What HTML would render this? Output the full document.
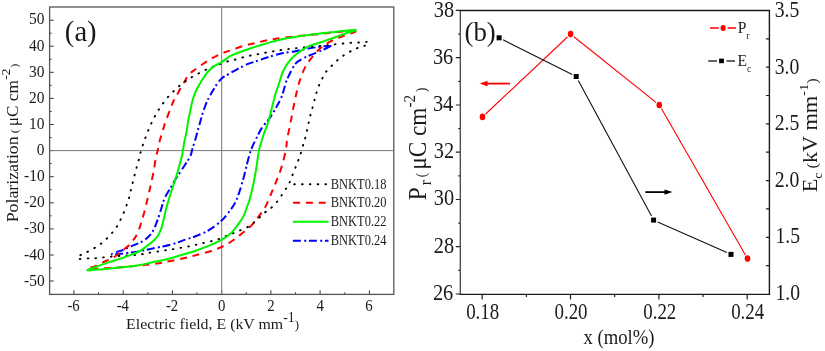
<!DOCTYPE html>
<html><head><meta charset="utf-8"><style>
html,body{margin:0;padding:0;background:#fff;width:825px;height:351px;overflow:hidden}
svg{display:block;will-change:transform}
</style></head><body>
<svg width="825" height="351" viewBox="0 0 825 351">
<rect width="825" height="351" fill="#fff"/>
<path d="M73.9,294.4V290.4 M98.5,294.4V292.4 M123.2,294.4V290.4 M147.8,294.4V292.4 M172.4,294.4V290.4 M197.0,294.4V292.4 M221.7,294.4V290.4 M246.3,294.4V292.4 M270.9,294.4V290.4 M295.5,294.4V292.4 M320.1,294.4V290.4 M344.8,294.4V292.4 M369.4,294.4V290.4 M49.6,281.0H53.6 M49.6,268.0H51.6 M49.6,255.0H53.6 M49.6,241.9H51.6 M49.6,228.9H53.6 M49.6,215.8H51.6 M49.6,202.8H53.6 M49.6,189.7H51.6 M49.6,176.7H53.6 M49.6,163.6H51.6 M49.6,150.6H53.6 M49.6,137.6H51.6 M49.6,124.5H53.6 M49.6,111.5H51.6 M49.6,98.4H53.6 M49.6,85.4H51.6 M49.6,72.3H53.6 M49.6,59.3H51.6 M49.6,46.2H53.6 M49.6,33.2H51.6 M49.6,20.2H53.6" stroke="#333" stroke-width="1" fill="none"/>
<rect x="49.6" y="7.0" width="344.2" height="287.4" fill="none" stroke="#555" stroke-width="1.3"/>
<path d="M49.6,150.6H393.8M221.7,7.0V294.4" stroke="#777" stroke-width="1" fill="none"/>
<path d="M331.4,45.9 C329.9,46.0 326.5,46.0 322.7,46.4 C318.9,46.8 313.2,47.7 308.5,48.5 C303.8,49.3 298.9,50.5 294.2,51.4 C289.5,52.3 284.6,52.7 280.2,53.7 C275.8,54.7 271.7,56.1 267.9,57.3 C264.1,58.5 261.0,59.6 257.6,60.8 C254.2,61.9 250.8,62.8 247.4,64.2 C244.0,65.6 240.3,67.6 237.1,69.3 C233.9,71.0 231.0,72.7 228.4,74.2 C225.8,75.7 223.5,76.9 221.6,78.5 C219.7,80.1 218.5,82.1 217.1,84.0 C215.7,85.9 214.7,87.7 213.4,89.8 C212.1,91.9 210.6,94.5 209.5,96.5 C208.4,98.5 208.0,99.1 206.9,101.7 C205.8,104.3 204.2,108.5 203.1,111.9 C202.0,115.3 200.9,119.4 200.2,122.0 C199.5,124.6 199.5,124.5 198.7,127.3 C197.9,130.1 196.6,135.0 195.6,138.5 C194.6,142.0 193.4,145.6 192.5,148.5 C191.6,151.4 191.7,153.2 190.4,156.0 C189.1,158.8 187.2,161.4 184.9,165.0 C182.6,168.6 178.8,174.0 176.4,177.8 C174.0,181.6 172.6,184.3 170.6,187.8 C168.6,191.3 165.9,195.2 164.3,199.0 C162.7,202.8 162.0,206.5 160.8,210.3 C159.6,214.1 158.2,218.4 156.9,221.8 C155.6,225.2 154.6,228.2 153.1,230.8 C151.6,233.4 149.8,235.4 147.9,237.2 C146.0,239.0 144.5,240.3 141.9,241.7 C139.3,243.1 135.6,244.3 132.5,245.7 C129.4,247.0 126.0,248.7 123.3,249.8 C120.6,250.9 118.4,251.3 116.5,252.1 C114.6,252.9 111.3,254.1 111.9,254.4 C112.5,254.7 117.1,254.1 119.9,253.8 C122.8,253.5 125.7,253.1 129.0,252.7 C132.3,252.3 136.3,251.9 140.0,251.2 C143.7,250.5 147.6,249.5 151.4,248.7 C155.2,247.9 159.0,247.2 162.8,246.4 C166.6,245.6 170.4,244.7 174.2,243.6 C178.0,242.5 181.8,240.9 185.6,239.6 C189.3,238.3 192.8,237.4 196.7,235.8 C200.6,234.2 205.1,232.4 209.2,229.9 C213.3,227.4 218.3,223.4 221.4,220.7 C224.5,218.0 225.7,216.2 227.8,213.5 C229.9,210.8 232.3,207.7 234.0,204.8 C235.7,201.9 236.5,200.1 238.0,195.9 C239.5,191.8 241.5,185.2 243.0,179.9 C244.5,174.6 245.7,169.0 247.0,164.0 C248.3,159.0 249.5,154.2 251.0,150.0 C252.5,145.8 254.2,142.7 256.0,139.0 C257.8,135.3 259.6,131.4 261.9,127.9 C264.2,124.4 267.6,121.2 269.9,117.9 C272.2,114.6 273.9,111.6 275.9,107.9 C277.9,104.2 280.2,100.3 281.9,96.0 C283.6,91.7 284.9,85.3 286.0,82.0 C287.1,78.7 287.4,78.7 288.5,76.3 C289.6,73.9 291.4,70.2 292.8,67.8 C294.2,65.4 295.2,63.8 297.1,62.1 C299.0,60.4 301.6,59.1 304.2,57.8 C306.8,56.5 309.9,55.4 312.8,54.2 C315.7,53.0 319.3,51.5 321.5,50.5 C323.7,49.5 324.4,49.3 326.0,48.5 C327.6,47.7 330.5,46.3 331.4,45.9" stroke="#0000ff" stroke-width="2" stroke-dasharray="8,3.3,2,2.7" fill="none"/>
<path d="M356.0,30.5 C353.8,30.7 346.5,31.2 342.8,31.5 C339.1,31.8 337.5,32.1 333.7,32.5 C329.9,32.9 325.4,33.5 320.0,34.0 C314.6,34.5 307.4,35.1 301.0,35.8 C294.6,36.5 286.6,37.4 281.5,38.0 C276.4,38.6 274.1,39.0 270.1,39.7 C266.1,40.5 261.8,41.5 257.6,42.5 C253.4,43.5 249.7,44.1 245.1,45.4 C240.5,46.7 234.5,49.0 230.3,50.5 C226.1,52.0 223.8,52.4 219.9,54.2 C216.0,56.0 211.1,58.9 207.0,61.4 C202.9,63.9 198.7,67.0 195.6,69.2 C192.5,71.5 190.3,72.9 188.5,74.9 C186.7,76.9 185.8,79.6 184.8,81.2 C183.8,82.8 183.7,82.5 182.5,84.5 C181.3,86.5 179.2,90.9 177.8,93.5 C176.4,96.1 175.2,97.7 174.0,100.0 C172.8,102.3 172.3,103.9 170.9,107.5 C169.5,111.1 167.2,117.2 165.7,121.4 C164.2,125.6 163.2,129.2 162.1,132.8 C161.0,136.4 159.9,140.0 159.2,142.8 C158.5,145.7 158.4,147.3 157.8,149.9 C157.2,152.5 156.4,154.8 155.7,158.5 C155.0,162.2 154.3,167.7 153.5,172.1 C152.7,176.5 151.6,180.7 150.7,185.0 C149.8,189.3 148.9,193.2 147.8,197.8 C146.7,202.4 145.3,208.2 144.1,212.8 C142.8,217.4 141.6,221.7 140.3,225.6 C139.0,229.5 137.4,233.4 136.1,236.0 C134.8,238.6 133.6,239.4 132.4,241.0 C131.2,242.6 130.5,243.8 129.0,245.3 C127.5,246.8 125.4,248.1 123.3,249.8 C121.2,251.5 118.6,254.0 116.5,255.5 C114.4,257.0 113.1,257.8 110.8,258.9 C108.5,260.0 105.5,261.1 102.8,262.4 C100.1,263.6 97.2,265.4 94.8,266.4 C92.4,267.4 85.9,268.3 88.6,268.6 C91.3,268.9 103.2,268.4 110.9,268.0 C118.6,267.6 128.5,266.6 134.9,266.0 C141.3,265.4 144.8,265.1 149.1,264.6 C153.4,264.1 156.7,263.5 160.5,262.9 C164.3,262.2 167.7,261.5 171.9,260.7 C176.1,259.9 181.3,258.8 185.6,257.8 C189.8,256.8 193.0,256.0 197.4,254.8 C201.8,253.6 208.1,251.9 212.1,250.6 C216.1,249.3 218.3,248.4 221.4,247.0 C224.5,245.6 227.6,243.9 230.6,242.0 C233.6,240.1 236.6,237.6 239.2,235.6 C241.8,233.6 244.2,231.7 246.3,229.9 C248.4,228.1 250.1,227.0 252.0,224.9 C253.9,222.8 255.7,220.7 258.0,217.5 C260.3,214.3 263.6,210.2 265.9,205.9 C268.2,201.6 270.1,196.2 271.9,191.9 C273.7,187.6 275.2,184.2 276.9,179.9 C278.6,175.6 280.4,170.9 281.9,165.9 C283.4,160.9 285.0,154.4 285.9,150.0 C286.8,145.6 286.4,143.3 287.1,139.2 C287.8,135.1 289.1,130.1 290.0,125.6 C290.9,121.1 291.6,116.7 292.5,112.1 C293.4,107.5 294.4,102.5 295.4,97.8 C296.4,93.1 297.7,87.6 298.7,84.0 C299.7,80.4 300.2,79.2 301.4,76.3 C302.5,73.3 303.7,69.6 305.6,66.3 C307.5,63.0 310.2,59.6 312.8,56.4 C315.4,53.2 318.2,50.0 321.5,47.3 C324.8,44.6 328.9,42.1 332.5,40.3 C336.1,38.4 339.2,37.5 342.8,36.2 C346.4,34.9 352.0,33.2 354.2,32.3 C356.4,31.3 355.7,30.8 356.0,30.5" stroke="#ff0000" stroke-width="2" stroke-dasharray="7,5.8" fill="none"/>
<path d="M366.7,41.9 C365.5,42.0 361.9,42.4 359.3,42.5 C356.7,42.6 353.9,42.6 351.3,42.8 C348.7,42.9 346.5,43.2 343.9,43.4 C341.3,43.6 338.5,43.9 335.9,44.2 C333.2,44.5 331.5,44.8 328.0,45.1 C324.5,45.5 320.4,45.8 314.9,46.3 C309.4,46.8 300.5,47.7 295.0,48.3 C289.5,48.9 285.5,49.4 282.1,49.9 C278.7,50.4 277.3,50.7 274.7,51.1 C272.1,51.5 269.3,51.9 266.7,52.4 C264.1,52.9 261.8,53.4 259.3,53.9 C256.8,54.4 254.5,54.8 251.9,55.3 C249.3,55.8 246.6,56.4 243.9,57.1 C241.2,57.8 238.7,58.7 236.0,59.4 C233.3,60.1 230.6,60.5 228.0,61.3 C225.4,62.0 223.2,63.0 220.6,63.9 C218.0,64.8 215.2,65.8 212.7,66.8 C210.2,67.8 208.2,68.7 205.6,69.9 C203.0,71.1 199.8,72.8 197.1,74.2 C194.4,75.6 192.1,76.9 189.7,78.4 C187.3,80.0 184.9,81.7 182.5,83.5 C180.1,85.3 177.8,87.2 175.5,89.4 C173.2,91.6 170.6,94.1 168.4,96.6 C166.2,99.1 164.1,101.9 162.3,104.4 C160.5,106.9 159.0,109.2 157.5,111.7 C156.0,114.2 154.4,117.1 153.1,119.7 C151.8,122.3 150.6,124.8 149.5,127.4 C148.4,130.0 147.4,132.6 146.4,135.2 C145.4,137.8 144.5,140.3 143.6,142.8 C142.7,145.3 141.8,147.9 141.1,150.4 C140.4,152.9 140.0,155.4 139.3,158.0 C138.6,160.6 137.8,163.1 137.1,165.7 C136.4,168.3 135.7,170.9 135.0,173.5 C134.3,176.1 133.8,178.8 133.1,181.4 C132.4,184.0 131.7,186.5 131.1,189.0 C130.5,191.5 130.1,194.1 129.4,196.6 C128.7,199.1 127.9,201.4 127.0,204.0 C126.1,206.6 125.1,209.4 124.0,212.0 C122.9,214.6 121.8,217.1 120.5,219.7 C119.2,222.3 118.0,224.9 116.3,227.4 C114.6,229.9 112.5,232.5 110.4,234.8 C108.3,237.1 106.1,239.4 103.9,241.3 C101.7,243.2 99.6,244.8 97.1,246.4 C94.6,248.0 91.6,249.7 89.1,251.0 C86.6,252.3 84.2,253.5 82.3,254.4 C80.4,255.3 78.0,255.7 77.5,256.5 C77.0,257.3 77.8,258.7 79.5,259.0 C81.2,259.3 85.0,258.5 87.4,258.4 C89.8,258.3 91.4,258.4 93.7,258.3 C96.0,258.2 98.6,257.9 101.1,257.6 C103.6,257.4 105.9,257.1 108.5,256.8 C111.1,256.6 113.8,256.3 116.5,256.1 C119.2,255.9 121.9,255.7 124.5,255.5 C127.1,255.3 129.4,255.3 132.0,255.2 C134.6,255.0 137.7,254.9 140.0,254.6 C142.3,254.3 143.4,253.7 145.7,253.3 C148.0,252.9 151.0,252.5 153.7,252.1 C156.4,251.7 159.0,251.4 161.7,251.0 C164.3,250.6 167.1,250.0 169.6,249.6 C172.1,249.2 174.0,249.1 176.5,248.7 C179.0,248.3 181.8,247.5 184.5,247.0 C187.2,246.5 190.0,246.3 192.5,245.8 C195.0,245.3 196.8,244.4 199.3,243.8 C201.9,243.2 205.0,242.7 207.8,242.0 C210.7,241.3 213.8,240.7 216.4,239.9 C219.0,239.1 221.1,237.9 223.5,237.0 C225.9,236.1 228.2,235.1 230.6,234.2 C233.0,233.3 235.1,232.5 237.7,231.4 C240.3,230.3 243.7,229.2 246.3,227.8 C248.9,226.4 251.3,224.4 253.4,222.8 C255.5,221.2 257.1,219.6 258.9,218.0 C260.7,216.4 262.2,214.4 264.0,213.0 C265.8,211.6 267.4,211.2 269.5,209.4 C271.6,207.6 274.5,204.8 276.9,201.9 C279.3,199.0 281.9,194.9 283.9,191.9 C285.9,188.9 287.4,186.9 288.9,183.9 C290.4,180.9 291.6,177.2 292.9,173.9 C294.2,170.6 295.7,166.9 296.9,163.9 C298.1,160.9 298.9,158.9 299.9,156.0 C300.9,153.1 301.9,149.1 302.7,146.5 C303.5,143.9 303.9,142.9 304.5,140.6 C305.1,138.3 306.0,135.3 306.6,132.7 C307.2,130.1 307.6,127.5 308.2,124.9 C308.8,122.3 309.3,119.7 309.9,117.1 C310.5,114.5 311.3,112.1 312.0,109.5 C312.7,106.9 313.6,103.8 314.2,101.4 C314.8,99.0 315.0,97.6 315.8,95.0 C316.6,92.4 317.7,88.9 318.8,86.0 C319.9,83.1 321.3,80.3 322.7,77.7 C324.1,75.1 325.1,73.0 327.0,70.6 C328.9,68.2 331.9,65.6 334.1,63.5 C336.3,61.4 337.9,59.6 340.2,57.8 C342.5,56.0 345.5,54.2 347.9,52.8 C350.3,51.4 352.4,50.3 354.7,49.3 C357.0,48.2 359.5,47.2 361.6,46.5 C363.7,45.8 366.4,45.5 367.3,45.3" stroke="#000" stroke-width="1.9" stroke-dasharray="0.7,7.1" stroke-linecap="round" fill="none"/>
<path d="M356.4,29.7 C354.1,29.9 347.0,30.5 342.8,30.9 C338.6,31.3 335.2,31.9 331.4,32.3 C327.6,32.7 324.4,32.9 320.0,33.4 C315.6,33.9 309.2,34.9 305.0,35.5 C300.8,36.1 298.7,36.4 295.0,37.0 C291.3,37.6 286.6,38.4 283.0,39.1 C279.4,39.8 277.1,40.5 273.6,41.4 C270.1,42.3 266.0,43.7 262.2,44.8 C258.4,45.9 254.6,47.0 250.8,48.2 C247.0,49.4 242.9,50.9 239.4,52.2 C235.9,53.5 233.0,54.6 230.0,56.2 C227.0,57.9 224.5,60.3 221.6,62.1 C218.7,63.9 215.1,65.3 212.7,67.1 C210.3,68.9 208.9,70.4 207.0,72.8 C205.1,75.2 203.0,78.7 201.3,81.3 C199.7,83.9 198.2,86.3 197.1,88.5 C196.0,90.7 195.3,92.3 194.5,94.5 C193.7,96.7 192.9,99.1 192.2,101.7 C191.5,104.3 191.1,107.0 190.4,110.3 C189.7,113.5 188.7,117.7 188.1,121.2 C187.5,124.7 187.2,128.2 186.6,131.5 C186.0,134.8 185.1,138.2 184.5,141.0 C183.9,143.8 183.7,145.7 183.3,148.0 C182.9,150.3 182.8,151.9 182.1,155.0 C181.4,158.1 180.4,162.1 179.2,166.4 C178.0,170.7 176.3,176.2 174.9,180.7 C173.5,185.2 171.8,189.7 170.6,193.5 C169.4,197.3 168.3,201.1 167.6,203.5 C166.9,205.9 166.9,205.6 166.3,208.0 C165.7,210.4 164.8,214.5 164.0,217.9 C163.2,221.3 162.4,225.3 161.4,228.2 C160.4,231.1 159.5,233.1 158.2,235.2 C156.9,237.3 155.3,239.0 153.5,240.8 C151.7,242.6 149.4,244.1 147.2,245.8 C144.9,247.5 143.0,249.4 140.0,251.0 C137.0,252.6 132.3,254.2 129.0,255.5 C125.7,256.8 123.3,257.8 119.9,258.9 C116.5,260.0 112.3,261.1 108.5,262.4 C104.7,263.6 100.6,265.1 97.1,266.4 C93.6,267.7 86.5,269.8 87.4,270.3 C88.4,270.8 97.4,269.7 102.8,269.2 C108.2,268.7 113.7,268.2 119.9,267.5 C126.1,266.8 134.8,265.9 140.0,265.0 C145.2,264.1 147.6,263.2 151.4,262.4 C155.2,261.6 159.0,261.0 162.8,260.1 C166.6,259.2 170.4,258.2 174.2,257.2 C178.0,256.1 182.1,254.8 185.6,253.8 C189.1,252.8 191.1,252.4 195.0,251.0 C198.9,249.6 204.8,247.4 209.2,245.6 C213.6,243.8 217.8,241.9 221.4,239.9 C225.0,237.9 227.9,236.0 230.6,233.5 C233.3,231.0 235.6,227.8 237.7,224.9 C239.8,222.1 241.8,219.6 243.4,216.4 C245.0,213.2 246.5,208.2 247.5,205.5 C248.5,202.8 248.6,203.2 249.5,199.9 C250.4,196.6 251.9,190.9 253.0,185.9 C254.1,180.9 255.0,175.7 256.0,169.9 C257.0,164.1 257.9,156.0 258.9,151.0 C259.9,146.0 261.0,143.2 261.9,140.0 C262.8,136.8 263.7,134.3 264.5,132.0 C265.3,129.7 265.8,129.2 266.9,125.9 C268.0,122.6 269.6,116.9 270.9,111.9 C272.2,106.9 273.8,100.0 274.9,96.0 C276.0,92.0 276.6,90.6 277.5,88.0 C278.4,85.4 279.1,83.0 280.0,80.3 C280.9,77.6 281.4,75.0 282.8,72.0 C284.2,69.0 286.1,65.2 288.5,62.1 C290.9,59.0 293.8,56.1 297.1,53.5 C300.4,50.9 304.5,48.3 308.5,46.4 C312.5,44.5 317.8,43.4 321.0,42.3 C324.2,41.2 325.2,40.7 328.0,39.7 C330.8,38.7 334.8,37.4 338.0,36.3 C341.2,35.1 344.2,33.8 347.3,32.8 C350.4,31.8 354.9,30.6 356.4,30.2" stroke="#00f400" stroke-width="2" fill="none"/>
<path d="M294.2,184.2H328.5" stroke="#000" stroke-width="1.9" stroke-dasharray="0.7,7.1" stroke-linecap="round" fill="none"/>
<text font-family="Liberation Serif" font-size="13.5" fill="#1a1a1a" transform="translate(330.67,188.80) scale(0.9254,1.0875)">BNKT0.18</text>
<path d="M293.1,202.8H328.5" stroke="#ff0000" stroke-width="2" stroke-dasharray="7,5.8" fill="none"/>
<text font-family="Liberation Serif" font-size="13.5" fill="#1a1a1a" transform="translate(330.67,207.40) scale(0.9254,1.0875)">BNKT0.20</text>
<path d="M292.9,221.7H328.5" stroke="#00f400" stroke-width="2" fill="none"/>
<text font-family="Liberation Serif" font-size="13.5" fill="#1a1a1a" transform="translate(330.67,226.30) scale(0.9254,1.0875)">BNKT0.22</text>
<path d="M292.9,240.7H328.5" stroke="#0000ff" stroke-width="2" stroke-dasharray="8,3.3,2,2.7" fill="none"/>
<text font-family="Liberation Serif" font-size="13.5" fill="#1a1a1a" transform="translate(330.67,245.30) scale(0.9254,1.0875)">BNKT0.24</text>
<text font-family="Liberation Serif" font-size="16" fill="#1a1a1a" transform="translate(24.10,285.70) scale(0.9667,0.9818)">-50</text>
<text font-family="Liberation Serif" font-size="16" fill="#1a1a1a" transform="translate(24.10,259.57) scale(0.9667,0.9818)">-40</text>
<text font-family="Liberation Serif" font-size="16" fill="#1a1a1a" transform="translate(24.10,233.44) scale(0.9667,0.9818)">-30</text>
<text font-family="Liberation Serif" font-size="16" fill="#1a1a1a" transform="translate(24.10,207.31) scale(0.9667,0.9818)">-20</text>
<text font-family="Liberation Serif" font-size="16" fill="#1a1a1a" transform="translate(24.10,181.18) scale(0.9667,0.9818)">-10</text>
<text font-family="Liberation Serif" font-size="16" fill="#1a1a1a" transform="translate(36.67,155.05) scale(0.9667,0.9818)">0</text>
<text font-family="Liberation Serif" font-size="16" fill="#1a1a1a" transform="translate(28.93,128.92) scale(0.9667,0.9818)">10</text>
<text font-family="Liberation Serif" font-size="16" fill="#1a1a1a" transform="translate(28.93,102.79) scale(0.9667,0.9818)">20</text>
<text font-family="Liberation Serif" font-size="16" fill="#1a1a1a" transform="translate(28.93,76.66) scale(0.9667,0.9818)">30</text>
<text font-family="Liberation Serif" font-size="16" fill="#1a1a1a" transform="translate(28.93,50.53) scale(0.9667,0.9818)">40</text>
<text font-family="Liberation Serif" font-size="16" fill="#1a1a1a" transform="translate(28.93,24.40) scale(0.9667,0.9818)">50</text>
<text font-family="Liberation Serif" font-size="16" fill="#1a1a1a" transform="translate(67.39,311.30) scale(0.9250,0.9818)">-6</text>
<text font-family="Liberation Serif" font-size="16" fill="#1a1a1a" transform="translate(116.64,311.30) scale(0.9250,0.9818)">-4</text>
<text font-family="Liberation Serif" font-size="16" fill="#1a1a1a" transform="translate(165.89,311.30) scale(0.9250,0.9818)">-2</text>
<text font-family="Liberation Serif" font-size="16" fill="#1a1a1a" transform="translate(217.95,311.30) scale(0.9250,0.9818)">0</text>
<text font-family="Liberation Serif" font-size="16" fill="#1a1a1a" transform="translate(267.20,311.30) scale(0.9250,0.9818)">2</text>
<text font-family="Liberation Serif" font-size="16" fill="#1a1a1a" transform="translate(316.45,311.30) scale(0.9250,0.9818)">4</text>
<text font-family="Liberation Serif" font-size="16" fill="#1a1a1a" transform="translate(365.24,311.30) scale(0.9250,0.9818)">6</text>
<text font-family="Liberation Serif" font-size="30" fill="#1a1a1a" transform="translate(64.85,41.31) scale(0.9548,1.0154)">(a)</text>
<text font-family="Liberation Serif" font-size="16" fill="#1a1a1a" transform="translate(126.11,328.58) scale(0.9936,0.9737)">Electric field, E (kV mm<tspan font-size="14" dy="-6.5">-1</tspan><tspan font-size="13" dy="6.5">)</tspan></text>
<text font-family="Liberation Serif" font-size="17" fill="#1a1a1a" transform="translate(17.56,222.31) rotate(-90) scale(1.0123,0.9350)"><tspan font-size="17.6">Polarization</tspan><tspan font-size="12" dx="3">(</tspan><tspan dx="3">&#956;C cm</tspan><tspan font-size="13" dy="-8.5" dx="0.5">-2</tspan><tspan font-size="12" dy="8.5" dx="1">)</tspan></text>
<path d="M482.2,294.4V299.4 M526.4,294.4V296.9 M570.5,294.4V299.4 M614.7,294.4V296.9 M658.9,294.4V299.4 M703.0,294.4V296.9 M747.2,294.4V299.4 M460.3,294.0H455.8 M460.3,270.4H458.3 M460.3,246.7H455.8 M460.3,223.1H458.3 M460.3,199.5H455.8 M460.3,175.9H458.3 M460.3,152.2H455.8 M460.3,128.6H458.3 M460.3,105.0H455.8 M460.3,81.3H458.3 M460.3,57.7H455.8 M460.3,34.1H458.3 M460.3,10.4H455.8 M769.4,265.6H765.9 M769.4,237.3H765.9 M769.4,208.9H765.9 M769.4,180.6H765.9 M769.4,152.2H765.9 M769.4,123.9H765.9 M769.4,95.5H765.9 M769.4,67.2H765.9 M769.4,38.8H765.9" stroke="#222" stroke-width="1.2" fill="none"/>
<path d="M460.3,10.5V294.4" stroke="#444" stroke-width="1.3"/>
<path d="M459.7,10.5H769.4V294.4H459.7" fill="none" stroke="#1a1a1a" stroke-width="1.4"/>
<text font-family="Liberation Serif" font-size="23" fill="#1a1a1a" transform="translate(432.93,299.65) scale(0.8857,1.0000)">26</text>
<text font-family="Liberation Serif" font-size="23" fill="#1a1a1a" transform="translate(433.81,252.54) scale(0.8857,1.0000)">28</text>
<text font-family="Liberation Serif" font-size="23" fill="#1a1a1a" transform="translate(433.81,205.43) scale(0.8857,1.0000)">30</text>
<text font-family="Liberation Serif" font-size="23" fill="#1a1a1a" transform="translate(433.81,158.32) scale(0.8857,1.0000)">32</text>
<text font-family="Liberation Serif" font-size="23" fill="#1a1a1a" transform="translate(432.93,111.22) scale(0.8857,1.0000)">34</text>
<text font-family="Liberation Serif" font-size="23" fill="#1a1a1a" transform="translate(432.93,64.11) scale(0.8857,1.0000)">36</text>
<text font-family="Liberation Serif" font-size="23" fill="#1a1a1a" transform="translate(433.81,17.00) scale(0.8857,1.0000)">38</text>
<text font-family="Liberation Serif" font-size="23" fill="#1a1a1a" transform="translate(775.39,299.65) scale(0.8556,0.9867)">1.0</text>
<text font-family="Liberation Serif" font-size="23" fill="#1a1a1a" transform="translate(775.39,243.14) scale(0.8556,0.9867)">1.5</text>
<text font-family="Liberation Serif" font-size="23" fill="#1a1a1a" transform="translate(774.64,186.63) scale(0.8556,0.9867)">2.0</text>
<text font-family="Liberation Serif" font-size="23" fill="#1a1a1a" transform="translate(774.64,130.12) scale(0.8556,0.9867)">2.5</text>
<text font-family="Liberation Serif" font-size="23" fill="#1a1a1a" transform="translate(774.64,73.61) scale(0.8556,0.9867)">3.0</text>
<text font-family="Liberation Serif" font-size="23" fill="#1a1a1a" transform="translate(774.64,17.10) scale(0.8556,0.9867)">3.5</text>
<text font-family="Liberation Serif" font-size="23" fill="#1a1a1a" transform="translate(466.13,318.80) scale(0.8231,0.9800)">0.18</text>
<text font-family="Liberation Serif" font-size="23" fill="#1a1a1a" transform="translate(554.46,318.80) scale(0.8231,0.9800)">0.20</text>
<text font-family="Liberation Serif" font-size="23" fill="#1a1a1a" transform="translate(643.21,318.80) scale(0.8231,0.9800)">0.22</text>
<text font-family="Liberation Serif" font-size="23" fill="#1a1a1a" transform="translate(731.13,318.80) scale(0.8231,0.9800)">0.24</text>
<text font-family="Liberation Serif" font-size="23" fill="#1a1a1a" transform="translate(583.50,343.70) scale(0.8103,0.9190)">x (mol%)</text>
<text font-family="Liberation Serif" font-size="27" fill="#1a1a1a" transform="translate(464.51,40.76) scale(0.9933,1.0240)">(b)</text>
<text font-family="Liberation Serif" font-size="23" fill="#1a1a1a" transform="translate(425.54,200.21) rotate(-90) scale(1.0109,1.0920)">P<tspan font-size="15" dy="5" dx="2">r</tspan><tspan font-size="13" dy="-5" dx="3">(</tspan><tspan dx="3">&#956;C cm</tspan><tspan font-size="15" dy="-10">-2</tspan><tspan font-size="13" dy="10" dx="3">)</tspan></text>
<text font-family="Liberation Serif" font-size="23" fill="#1a1a1a" transform="translate(817.36,192.37) rotate(-90) scale(0.9716,0.8880)">E<tspan font-size="14" dy="5">c</tspan><tspan font-size="17" dy="-5"> (</tspan>kV mm<tspan font-size="15" dy="-10">-1</tspan><tspan font-size="17" dy="10">)</tspan></text>
<text font-family="Liberation Serif" font-size="16.5" fill="#1a1a1a" transform="translate(737.86,32.80) scale(0.9417,1.0000)">P<tspan font-size="10" dy="6">r</tspan></text>
<text font-family="Liberation Serif" font-size="16.5" fill="#1a1a1a" transform="translate(737.45,65.72) scale(0.9462,1.0294)">E<tspan font-size="10" dy="6">c</tspan></text>
<path d="M485.6,114.0L567.5,37.0 M573.9,36.7L656.0,102.4 M661.4,108.6L745.4,255.0 " stroke="#ff0000" stroke-width="1.1" fill="none"/>
<path d="M503.1,39.8L572.2,74.5 M578.3,80.5L651.5,216.1 M657.7,221.9L726.9,252.6 " stroke="#111" stroke-width="1.1" fill="none"/>
<ellipse cx="482.5" cy="116.9" rx="2.8" ry="3.3" fill="#ff0000"/>
<ellipse cx="570.6" cy="34.1" rx="2.8" ry="3.3" fill="#ff0000"/>
<ellipse cx="659.3" cy="105.0" rx="2.8" ry="3.3" fill="#ff0000"/>
<ellipse cx="747.5" cy="258.6" rx="2.8" ry="3.3" fill="#ff0000"/>
<rect x="496.6" y="35.3" width="5" height="5" fill="#000"/>
<rect x="573.7" y="74.0" width="5" height="5" fill="#000"/>
<rect x="651.1" y="217.6" width="5" height="5" fill="#000"/>
<rect x="728.5" y="251.9" width="5" height="5" fill="#000"/>
<path d="M485,83.6H510" stroke="#ff0000" stroke-width="1.8"/><path d="M479.8,83.6L487.5,80.8V86.4Z" fill="#ff0000"/>
<path d="M645.4,192.1H668" stroke="#000" stroke-width="1.8"/><path d="M672.5,192.1L664.5,189.4V194.8Z" fill="#000"/>
<path d="M710,27.9H718.8M727.7,27.9H736" stroke="#ff0000" stroke-width="1.5"/><ellipse cx="723.1" cy="27.9" rx="2.6" ry="3" fill="#ff0000"/>
<path d="M708.2,60.9H717.1M726.5,60.9H735" stroke="#333" stroke-width="1.5"/><rect x="719.1" y="58.6" width="4.8" height="4.6" fill="#000"/>
</svg>
</body></html>
